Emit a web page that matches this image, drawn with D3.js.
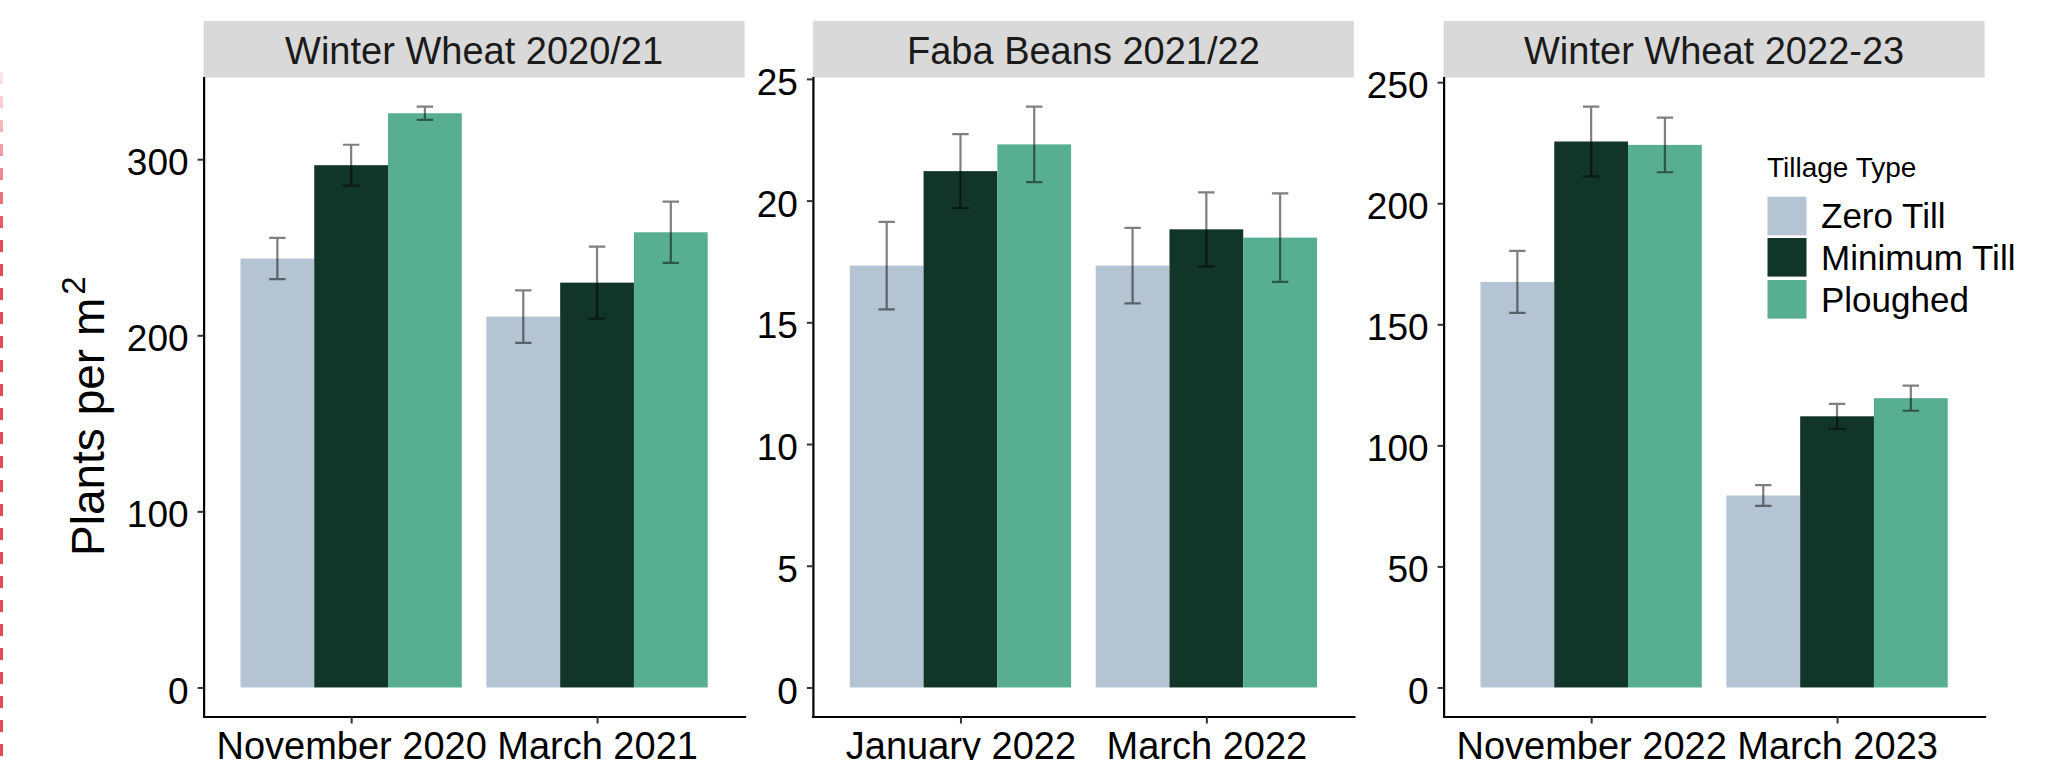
<!DOCTYPE html>
<html>
<head>
<meta charset="utf-8">
<script src="https://cdn.jsdelivr.net/npm/d3@7"></script>
<style>
  html, body { margin: 0; padding: 0; background: #ffffff; }
  svg { display: block; font-family: "Liberation Sans", Arial, Helvetica, sans-serif; }
</style>
</head>
<body>
<script>
// ---------------- data ----------------
const crops = ["Winter Wheat 2020/21", "Faba Beans 2021/22", "Winter Wheat 2022-23"];
const dates = ["November 2020", "March 2021", "January 2022", "March 2022", "November 2022", "March 2023"];
const datePanel = [0, 0, 1, 1, 2, 2];
const tillageTypes = ["Zero Till", "Minimum Till", "Ploughed"];

const zeroTill       = [243.6, 210.6, 17.33, 17.33, 167.5, 79.3];
const minimumTill    = [296.6, 229.9, 21.21, 18.82, 225.5, 112.0];
const ploughed       = [326.1, 258.5, 22.31, 18.48, 224.1, 119.5];
const zeroTillErr    = [11.7, 14.9, 1.80, 1.55, 12.8, 4.3];
const minimumTillErr = [11.6, 20.5, 1.52, 1.52, 14.4, 5.15];
const ploughedErr    = [3.75, 17.4, 1.55, 1.82, 11.3, 5.2];

const yTicks1 = [0, 100, 200, 300];
const yTicks2 = [0, 5, 10, 15, 20, 25];
const yTicks3 = [0, 50, 100, 150, 200, 250];

const tillageColors = ["#B4C4D3", "#12352A", "#58AE90"];

// ---------------- layout ----------------
const W = 2071, H = 760;
const panelX = [203.6, 812.9, 1443.6];
const panelW = 541;
const plotTop = 77.6, plotBottom = 716.5;
const stripTop = 21;

const means = [zeroTill, minimumTill, ploughed];
const errs = [zeroTillErr, minimumTillErr, ploughedErr];
const yTicks = [yTicks1, yTicks2, yTicks3];

const svg = d3.select("body").append("svg")
  .attr("width", W).attr("height", H)
  .attr("viewBox", `0 0 ${W} ${H}`);

svg.append("rect").attr("width", W).attr("height", H).attr("fill", "#ffffff");

// red dashed marker at the left edge
const defs = svg.append("defs");
const grad = defs.append("linearGradient").attr("id", "redfade")
  .attr("gradientUnits", "userSpaceOnUse")
  .attr("x1", 0).attr("y1", 60).attr("x2", 0).attr("y2", 240);
grad.append("stop").attr("offset", "0%").attr("stop-color", "#E5485A").attr("stop-opacity", 0.05);
grad.append("stop").attr("offset", "100%").attr("stop-color", "#E5485A").attr("stop-opacity", 1);
svg.append("line")
  .attr("x1", 1.5).attr("x2", 1.5).attr("y1", 72).attr("y2", H)
  .attr("stroke", "url(#redfade)").attr("stroke-width", 3)
  .attr("stroke-dasharray", "12,12");

crops.forEach((crop, p) => {
  const x0 = panelX[p];
  const idx = dates.map((d, i) => i).filter(i => datePanel[i] === p);
  const panelDates = idx.map(i => dates[i]);

  let maxTop = 0;
  idx.forEach(i => means.forEach((m, s) => { maxTop = Math.max(maxTop, m[i] + errs[s][i]); }));

  const y = d3.scaleLinear().domain([-0.05 * maxTop, 1.05 * maxTop]).range([plotBottom, plotTop]);
  const x = d3.scalePoint().domain(panelDates).range([x0, x0 + panelW]).padding(0.6);
  const step = x.step();
  const sub = d3.scaleBand().domain(tillageTypes).range([-0.45 * step, 0.45 * step]).padding(0);

  const g = svg.append("g");

  // strip
  g.append("rect")
    .attr("x", x0).attr("y", stripTop)
    .attr("width", panelW).attr("height", plotTop - stripTop)
    .attr("fill", "#D9D9D9");
  g.append("text")
    .attr("x", x0 + panelW / 2).attr("y", 64)
    .attr("text-anchor", "middle")
    .attr("font-size", 38).attr("fill", "#1A1A1A")
    .text(crop);

  // bars
  idx.forEach(i => {
    tillageTypes.forEach((t, s) => {
      const v = means[s][i];
      g.append("rect")
        .attr("x", x(dates[i]) + sub(t))
        .attr("y", y(v))
        .attr("width", sub.bandwidth())
        .attr("height", y(0) - y(v))
        .attr("fill", tillageColors[s]);
    });
  });

  // error bars
  const capHalf = 0.2 / 3 * step / 2;
  idx.forEach(i => {
    tillageTypes.forEach((t, s) => {
      const cx = x(dates[i]) + sub(t) + sub.bandwidth() / 2;
      const lo = y(means[s][i] - errs[s][i]);
      const hi = y(means[s][i] + errs[s][i]);
      g.append("path")
        .attr("d", `M${cx - capHalf},${hi}H${cx + capHalf}M${cx},${hi}V${lo}M${cx - capHalf},${lo}H${cx + capHalf}`)
        .attr("fill", "none")
        .attr("stroke", "rgba(0,0,0,0.5)")
        .attr("stroke-width", 2.2);
    });
  });

  // y axis
  const ya = g.append("g").attr("transform", `translate(${x0},0)`)
    .call(d3.axisLeft(y).tickValues(yTicks[p]).tickSize(6).tickSizeOuter(0).tickPadding(9));
  ya.select(".domain").attr("stroke", "#000").attr("stroke-width", 2.2).attr("stroke-linecap", "square");
  ya.selectAll(".tick line").attr("stroke", "#333").attr("stroke-width", 2);
  ya.selectAll(".tick text")
    .attr("font-size", 37).attr("fill", "#000")
    .attr("font-family", "Liberation Sans, Arial, sans-serif")
    .attr("dy", "0.42em");

  // x axis
  const xa = g.append("g").attr("transform", `translate(0,${plotBottom})`)
    .call(d3.axisBottom(x).tickSize(7).tickSizeOuter(0));
  xa.select(".domain").attr("stroke", "#000").attr("stroke-width", 2.2).attr("stroke-linecap", "square");
  xa.selectAll(".tick line").attr("stroke", "#333").attr("stroke-width", 2);
  xa.selectAll(".tick text")
    .attr("font-size", 38).attr("fill", "#000")
    .attr("font-family", "Liberation Sans, Arial, sans-serif")
    .attr("y", 42).attr("dy", 0);
});

// y axis title
const yt = svg.append("text")
  .attr("transform", "translate(104,556) rotate(-90)")
  .attr("text-anchor", "start")
  .attr("font-size", 46).attr("fill", "#000");
yt.append("tspan").text("Plants per m");
yt.append("tspan").attr("font-size", 33).attr("dx", 3).attr("dy", -19).text("2");

// legend
const lg = svg.append("g");
lg.append("text").attr("x", 1767).attr("y", 176.7)
  .attr("font-size", 28).attr("fill", "#000").text("Tillage Type");
const keyY = [196.7, 238, 280];
const labY = [228.3, 270, 311.7];
tillageTypes.forEach((t, s) => {
  lg.append("rect").attr("x", 1767.5).attr("y", keyY[s])
    .attr("width", 39).attr("height", 38.6).attr("fill", tillageColors[s]);
  lg.append("text").attr("x", 1821).attr("y", labY[s])
    .attr("font-size", 35).attr("fill", "#000").text(t);
});
</script>
</body>
</html>
